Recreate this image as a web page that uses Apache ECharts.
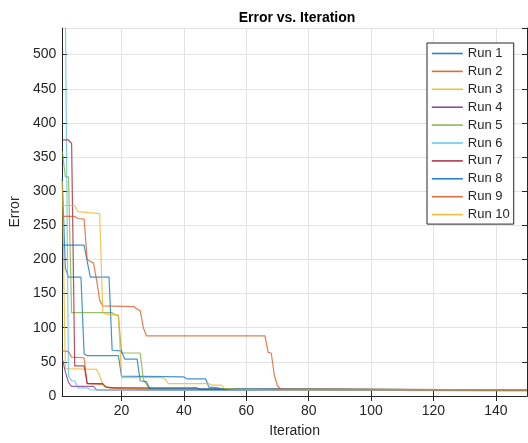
<!DOCTYPE html>
<html>
<head>
<meta charset="utf-8">
<script src="https://cdn.jsdelivr.net/npm/echarts@6/dist/echarts.min.js"></script>
<style>
  html, body {margin: 0; padding: 0; background: #fff;}
  #chart {width: 528px; height: 443px;}
</style>
</head>
<body>
<div id="chart"></div>
<script>
// Error per iteration for ten runs as [iteration, error] vertices.
const run1 = [[1, 318], [2, 187], [3, 174], [7, 174], [8, 62], [9, 59], [19, 59], [20, 29], [40, 28], [41, 25], [47, 25], [48, 13], [51, 12], [52, 10], [150, 9]]
const run2 = [[1, 66], [3, 65], [4, 57], [8, 56], [9, 18], [14, 17], [15, 13], [20, 11], [30, 10], [150, 9]]
const run3 = [[1, 315], [2, 40], [12, 39], [13, 30], [14, 16], [15, 14], [16, 12], [40, 10], [150, 9]]
const run4 = [[1, 55], [2, 35], [3, 20], [4, 14], [11, 14], [12, 9], [150, 8]]
const run5 = [[1, 359], [2, 321], [3, 321], [4, 122], [17, 122], [18, 119], [19, 118], [20, 63], [26, 63], [27, 24], [28, 17], [29, 11], [30, 10], [150, 9]]
const run6 = [[1, 1500], [2, 560], [3, 29], [4, 22], [5, 22], [6, 12], [9, 12], [10, 9], [150, 8]]
const run7 = [[1, 375], [3, 375], [4, 370], [5, 44], [8, 44], [9, 18], [14, 18], [15, 13], [17, 12], [44, 12], [45, 10], [150, 9]]
const run8 = [[1, 221], [8, 221], [9, 197], [10, 174], [16, 174], [17, 67], [20, 66], [21, 54], [25, 54], [26, 22], [28, 21], [29, 11], [150, 9]]
const run9 = [[1, 263], [5, 263], [6, 260], [8, 259], [9, 200], [10, 197], [11, 195], [12, 170], [13, 140], [14, 132], [24, 131], [25, 127], [26, 125], [27, 100], [28, 88], [66, 88], [67, 64], [68, 63], [69, 30], [70, 15], [71, 10], [150, 9]]
const run10 = [[1, 279], [5, 279], [6, 270], [13, 267], [14, 122], [15, 120], [19, 118], [20, 27], [33, 27], [34, 25], [35, 18], [48, 18], [49, 16], [52, 16], [53, 11], [56, 10], [70, 9], [150, 9]]

const runNames = ["Run 1", "Run 2", "Run 3", "Run 4", "Run 5", "Run 6", "Run 7", "Run 8", "Run 9", "Run 10"]
const runs = [run1, run2, run3, run4, run5, run6, run7, run8, run9, run10]
const xTicks = [20, 40, 60, 80, 100, 120, 140]

// MATLAB default line order, repeating after seven
const COLORS = ["#0072BD", "#D95319", "#EDB120", "#7E2F8E", "#77AC30", "#4DBEEE", "#A2142F", "#0072BD", "#D95319", "#EDB120"]
const INK = "#262626"
const GRID = "#e3e3e3"
const FONT = "'Liberation Sans', Arial, sans-serif"

const boxAxis = {
  axisLine: {show: true, lineStyle: {color: INK, width: 1}},
  axisTick: {show: true, inside: true, length: 5, lineStyle: {color: INK}},
  axisLabel: {show: false},
  splitLine: {show: false},
}

const chart = echarts.init(document.getElementById("chart"), null, {renderer: "canvas"})

chart.setOption({
  animation: false,
  textStyle: {fontFamily: FONT, color: INK},
  title: {
    text: "Error vs. Iteration",
    left: 292,
    top: 6,
    textAlign: "center",
    textStyle: {fontFamily: FONT, fontSize: 14, fontWeight: "bold", color: "#000"},
  },
  grid: {left: 57, right: 1, top: 28, bottom: 44},
  legend: {
    orient: "vertical",
    left: 427,
    top: 43,
    padding: [4, 4, 3, 4],
    itemWidth: 31,
    itemHeight: 14,
    itemGap: 4.9,
    backgroundColor: "#fff",
    borderColor: INK,
    borderWidth: 1,
    borderRadius: 0,
    itemStyle: {opacity: 0},
    lineStyle: {width: 1.6, opacity: 0.85},
    textStyle: {fontFamily: FONT, fontSize: 13, color: INK, padding: [0, 0, 0, 0]},
    data: runNames,
  },
  xAxis: [
    {
      type: "value",
      min: 1,
      max: 150,
      position: "bottom",
      name: "Iteration",
      nameLocation: "middle",
      nameGap: 28,
      nameTextStyle: {fontFamily: FONT, fontSize: 14, color: INK},
      axisLine: {show: true, lineStyle: {color: INK, width: 1}},
      axisTick: {show: true, inside: true, length: 5, customValues: xTicks, lineStyle: {color: INK}},
      axisLabel: {customValues: xTicks, color: INK, fontSize: 14, fontFamily: FONT, margin: 8},
      splitLine: {show: true, lineStyle: {color: GRID, width: 1}},
    },
    {...boxAxis, type: "value", min: 1, max: 150, position: "top",
      axisTick: {...boxAxis.axisTick, customValues: xTicks}},
  ],
  yAxis: [
    {
      type: "value",
      min: 0,
      max: 539,
      interval: 50,
      position: "left",
      name: "Error",
      nameLocation: "middle",
      nameGap: 38,
      nameRotate: 90,
      nameTextStyle: {fontFamily: FONT, fontSize: 14, color: INK},
      axisLine: {show: true, lineStyle: {color: INK, width: 1}},
      axisTick: {show: true, inside: true, length: 5, lineStyle: {color: INK}},
      axisLabel: {color: INK, fontSize: 14, fontFamily: FONT, margin: 6, showMaxLabel: false},
      splitLine: {show: true, lineStyle: {color: GRID, width: 1}},
    },
    {...boxAxis, type: "value", min: 0, max: 539, interval: 50, position: "right"},
  ],
  series: runs.map((data, i) => ({
    name: runNames[i],
    type: "line",
    xAxisIndex: 0,
    yAxisIndex: 0,
    data: data,
    symbol: "none",
    color: COLORS[i],
    lineStyle: {width: 1.2, opacity: 0.75},
    z: 2 + i,
  })),
})
</script>
</body>
</html>
